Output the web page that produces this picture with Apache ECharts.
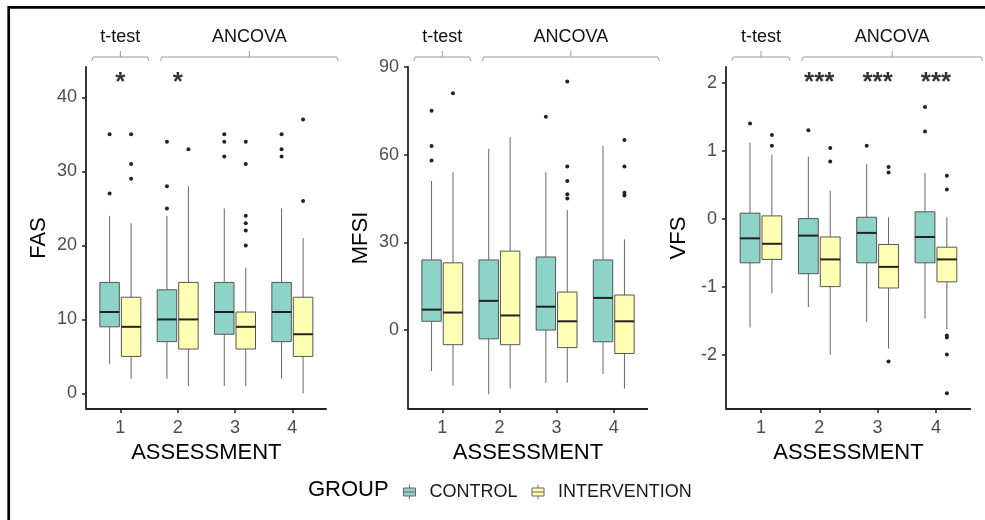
<!DOCTYPE html>
<html>
<head>
<meta charset="utf-8">
<script src="https://cdn.jsdelivr.net/npm/echarts@6/dist/echarts.min.js"></script>
<style>
html, body { margin: 0; padding: 0; background: #fff; }
#main { width: 985px; height: 520px; }
</style>
</head>
<body>
<div id="main"></div>
<script>
const assessments = ['1', '2', '3', '4'];
const groups = ['CONTROL', 'INTERVENTION'];
const groupColors = ['#8DD3C7', '#FFFFB3'];

// one row per assessment: [lower whisker, Q1, median, Q3, upper whisker]
const fasControl = [[4, 9, 11, 15, 24], [2, 7, 10, 14, 24], [1, 8, 11, 15, 25], [2, 7, 11, 15, 25]];
const fasIntervention = [[2, 5, 9, 13, 23], [1, 6, 10, 15, 28], [1, 6, 9, 11, 17], [0, 5, 8, 13, 21]];
const fasControlOut = [[27, 35], [25, 28, 34], [32, 34, 35], [32, 33, 35]];
const fasInterventionOut = [[29, 31, 35], [33], [20, 22, 23, 24, 31, 34], [26, 37]];

const mfsiControl = [[-14, 3, 7, 24, 51], [-22, -3, 10, 24, 62], [-18, 0, 8, 25, 54], [-15, -4, 11, 24, 63]];
const mfsiIntervention = [[-19, -5, 6, 23, 54], [-20, -5, 5, 27, 66], [-18, -6, 3, 13, 41], [-20, -8, 3, 12, 31]];
const mfsiControlOut = [[58, 63, 75], [], [73], []];
const mfsiInterventionOut = [[81], [], [45, 46.5, 51, 56, 85], [46, 47, 56, 65]];

const vfsControl = [[-1.6, -0.65, -0.29, 0.08, 1.12], [-1.3, -0.81, -0.25, 0, 0.91], [-1.52, -0.65, -0.21, 0.02, 0.8], [-1.47, -0.65, -0.27, 0.1, 0.67]];
const vfsIntervention = [[-1.1, -0.6, -0.37, 0.04, 0.94], [-2.0, -1.0, -0.6, -0.27, 0.41], [-1.91, -1.02, -0.71, -0.38, 0.02], [-1.63, -0.93, -0.6, -0.42, 0.02]];
const vfsControlOut = [[1.4], [1.3], [1.07], [1.28, 1.64]];
const vfsInterventionOut = [[1.07, 1.23], [0.84, 1.04], [-2.1, 0.68, 0.76], [-2.57, -2.0, -1.75, -1.72, 0.43, 0.63]];

const fasStars = ['*', '*', '', ''];
const mfsiStars = ['', '', '', ''];
const vfsStars = ['', '***', '***', '***'];

const fasTicks = [0, 10, 20, 30, 40];
const mfsiTicks = [0, 30, 60, 90];
const vfsTicks = [-2, -1, 0, 1, 2];

const brackets = [
  { label: 't-test', from: 0.5, to: 1.5 },
  { label: 'ANCOVA', from: 1.7, to: 4.8 }
];

const FONT = '"Liberation Sans", Arial, sans-serif';
const AXIS = '#222';
const TOP = 67, HEIGHT = 342;
const DODGE = 0.1875, BOX_W = 0.34;

const panels = [
  { name: 'FAS', left: 91.7, width: 229.3, min: -2.1, max: 44.1, ticks: fasTicks,
    boxes: [fasControl, fasIntervention], outliers: [fasControlOut, fasInterventionOut],
    stars: fasStars, starY: 42 },
  { name: 'MFSI', left: 413.7, width: 228.6, min: -27, max: 90, ticks: mfsiTicks,
    boxes: [mfsiControl, mfsiIntervention], outliers: [mfsiControlOut, mfsiInterventionOut],
    stars: mfsiStars, starY: 85 },
  { name: 'VFS', left: 731.8, width: 233.3, min: -2.8, max: 2.23, ticks: vfsTicks,
    boxes: [vfsControl, vfsIntervention], outliers: [vfsControlOut, vfsInterventionOut],
    stars: vfsStars, starY: 2.0 }
];

function boxRenderer(outliers, side, color) {
  return function (params, api) {
    const cat = api.value(0);
    const band = api.size([1, 0])[0];
    const cx = api.coord([cat, 0])[0] + side * band * DODGE;
    const half = band * BOX_W / 2;
    const y = (i) => api.coord([cat, api.value(i)])[1];
    const yLow = y(1), yQ1 = y(2), yMed = y(3), yQ3 = y(4), yHigh = y(5);
    const children = [
      { type: 'line', shape: { x1: cx, y1: yHigh, x2: cx, y2: yQ3 }, style: { stroke: '#666', lineWidth: 1 } },
      { type: 'line', shape: { x1: cx, y1: yQ1, x2: cx, y2: yLow }, style: { stroke: '#666', lineWidth: 1 } },
      { type: 'rect', shape: { x: cx - half, y: yQ3, width: half * 2, height: yQ1 - yQ3 },
        style: { fill: color, stroke: '#555', lineWidth: 1 } },
      { type: 'line', shape: { x1: cx - half, y1: yMed, x2: cx + half, y2: yMed }, style: { stroke: '#222', lineWidth: 2 } }
    ];
    outliers[params.dataIndex].forEach(function (v) {
      children.push({ type: 'circle', shape: { cx: cx, cy: api.coord([cat, v])[1], r: 2 }, style: { fill: '#222' } });
    });
    return { type: 'group', children: children };
  };
}

const grid = [], xAxis = [], yAxis = [], series = [];
panels.forEach(function (p, g) {
  const band = p.width / 4;
  grid.push({ left: p.left, top: TOP, width: p.width, height: HEIGHT });
  xAxis.push({
    gridIndex: g, type: 'category', data: assessments,
    name: 'ASSESSMENT', nameLocation: 'middle', nameGap: 30,
    nameTextStyle: { fontSize: 22, color: '#000', fontFamily: FONT },
    axisLine: { show: false, onZero: false },
    axisTick: { show: true, alignWithLabel: true, length: 4, lineStyle: { color: AXIS, width: 1.5 } },
    axisLabel: { fontSize: 18, color: '#4d4d4d', margin: 10, fontFamily: FONT },
    splitLine: { show: false }
  });
  yAxis.push({
    gridIndex: g, type: 'value', min: p.min, max: p.max, offset: band * 0.1,
    name: p.name, nameLocation: 'middle', nameGap: 36,
    nameTextStyle: { fontSize: 22, color: '#000', fontFamily: FONT },
    axisLine: { show: true, onZero: false, lineStyle: { color: AXIS, width: 1.8 } },
    axisTick: { show: true, length: 4, customValues: p.ticks, lineStyle: { color: AXIS, width: 1.5 } },
    axisLabel: { customValues: p.ticks, fontSize: 18, color: '#4d4d4d', margin: 9, fontFamily: FONT },
    splitLine: { show: false }
  });
  groups.forEach(function (name, k) {
    series.push({
      type: 'custom', name: name, xAxisIndex: g, yAxisIndex: g,
      itemStyle: { color: groupColors[k] },
      encode: { x: 0, y: [1, 2, 3, 4, 5] },
      data: p.boxes[k].map(function (b, i) { return [i].concat(b); }),
      renderItem: boxRenderer(p.outliers[k], k === 0 ? -1 : 1, groupColors[k])
    });
  });
  const starData = [];
  p.stars.forEach(function (s, i) {
    if (s) starData.push({ value: [i, p.starY], label: { formatter: s } });
  });
  series.push({
    type: 'scatter', xAxisIndex: g, yAxisIndex: g, symbolSize: 0, silent: true,
    data: starData,
    label: { show: true, position: 'inside', fontSize: 26, fontWeight: 'bold', color: '#000', fontFamily: FONT }
  });
});

const ICON = 'path://M6,0 L6,3 M0,3 L12,3 L12,11 L0,11 Z M0,7 L12,7 M6,11 L6,14';

const option = {
  backgroundColor: '#fff',
  animation: false,
  grid: grid,
  xAxis: xAxis,
  yAxis: yAxis,
  legend: {
    left: 403, top: 483, padding: 0, itemWidth: 12, itemHeight: 14, itemGap: 14,
    data: groups.map(function (n, i) {
      return { name: n, icon: ICON, itemStyle: { color: groupColors[i], borderColor: '#666', borderWidth: 1 } };
    }),
    textStyle: { fontSize: 18, color: '#1a1a1a', fontFamily: FONT, padding: [0, 0, 0, 9] }
  },
  series: series
};

const chart = echarts.init(document.getElementById('main'));
chart.setOption(option);

// frame, legend title, x axis lines and test brackets
const graphics = [
  { type: 'polyline', shape: { points: [[8.7, 520], [8.7, 7.3], [985, 7.3]] }, style: { stroke: '#000', lineWidth: 2.7, fill: null } },
  { type: 'text', style: { x: 308, y: 490, text: 'GROUP', fontSize: 22, fontFamily: FONT, fill: '#000',
      align: 'left', textAlign: 'left', verticalAlign: 'middle', textVerticalAlign: 'middle' } }
];
panels.forEach(function (p, g) {
  const x0 = chart.convertToPixel({ xAxisIndex: g }, 0);
  const band = chart.convertToPixel({ xAxisIndex: g }, 1) - x0;
  const catX = function (f) { return x0 + (f - 1) * band; };
  const yBottom = chart.convertToPixel({ yAxisIndex: g }, p.min);
  graphics.push({ type: 'line', shape: { x1: catX(0.4), y1: yBottom, x2: catX(4.6), y2: yBottom },
    style: { stroke: AXIS, lineWidth: 1.8 } });
  brackets.forEach(function (b) {
    const xa = catX(b.from), xb = catX(b.to), xm = (xa + xb) / 2, yb = 57;
    graphics.push({ type: 'polyline', shape: { points: [[xa, yb + 4], [xa + 1.5, yb], [xb - 1.5, yb], [xb, yb + 4]] },
      style: { stroke: '#999', lineWidth: 1, fill: null } });
    graphics.push({ type: 'line', shape: { x1: xm, y1: yb, x2: xm, y2: yb - 6 }, style: { stroke: '#999', lineWidth: 1 } });
    graphics.push({ type: 'text', style: { x: xm, y: 37, text: b.label, fontSize: 18, fontFamily: FONT, fill: '#111',
      align: 'center', textAlign: 'center', verticalAlign: 'middle', textVerticalAlign: 'middle' } });
  });
});
chart.setOption({ graphic: graphics });

window.onresize = function () {
  chart.resize();
};
</script>
</body>
</html>
